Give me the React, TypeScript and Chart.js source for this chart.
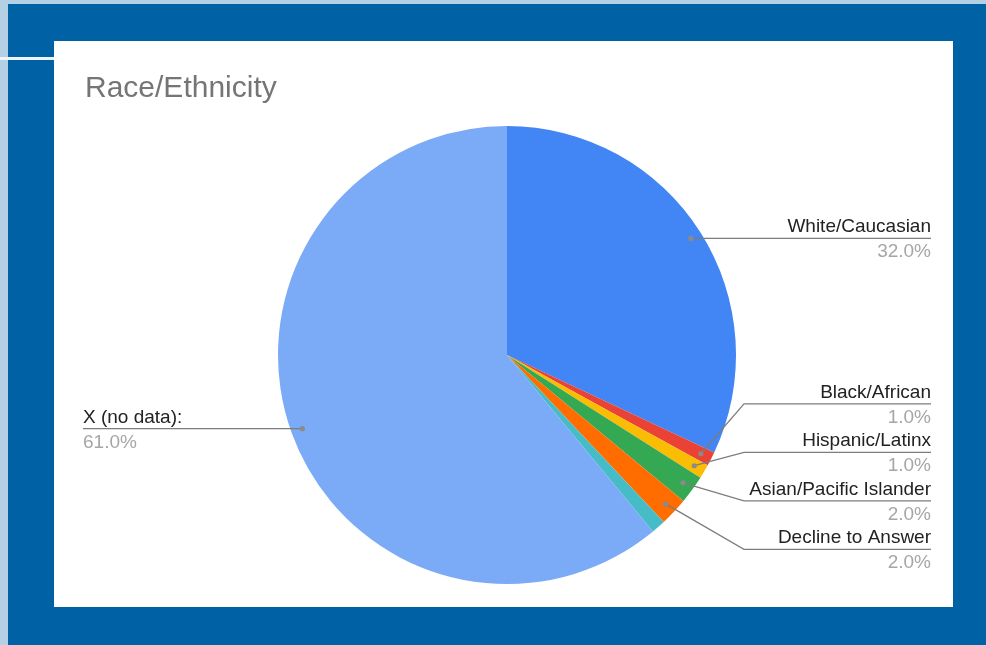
import React, { useEffect, useRef } from "react";
import { Chart, registerables } from "chart.js";

Chart.register(...registerables);

const chartTitle = "Race/Ethnicity";
const categories = [
  "White/Caucasian",
  "Black/African",
  "Hispanic/Latinx",
  "Asian/Pacific Islander",
  "Decline to Answer",
  "Other",
  "X (no data):",
];
const values = [32, 1, 1, 2, 2, 1, 61];
const showLabel = [true, true, true, true, true, false, true];
const sliceColors = ["#4285f4", "#ea4335", "#fbbc04", "#34a853", "#ff6d01", "#46bdc6", "#7baaf7"];

const FONT = "Arial, 'Liberation Sans', sans-serif";

const labelPlugin = {
  id: "pieLabels",
  afterDraw(chart: any) {
    const ctx = chart.ctx as CanvasRenderingContext2D;
    const W = chart.width;
    // title
    ctx.save();
    ctx.fillStyle = "#757575";
    ctx.font = `30px ${FONT}`;
    ctx.textAlign = "left";
    ctx.textBaseline = "alphabetic";
    ctx.fillText(chartTitle, 31, 56);

    const meta = chart.getDatasetMeta(0);
    const total = values.reduce((a, b) => a + b, 0);
    type Item = { i: number; dx: number; dy: number; right: boolean; y: number; cx: number; R: number };
    const items: Item[] = [];
    meta.data.forEach((arc: any, i: number) => {
      if (!showLabel[i]) return;
      const p = arc.getProps(["x", "y", "startAngle", "endAngle", "outerRadius"], true);
      const mid = (p.startAngle + p.endAngle) / 2;
      const r = p.outerRadius * 0.95;
      const dx = p.x + Math.cos(mid) * r;
      const dy = p.y + Math.sin(mid) * r;
      items.push({ i, dx, dy, right: Math.cos(mid) >= 0, y: dy, cx: p.x, R: p.outerRadius });
    });

    const spacing = 48.5;
    const resolve = (list: Item[]) => {
      list.sort((a, b) => a.dy - b.dy);
      let clusters: Item[][] = list.map((it) => [it]);
      const place = (c: Item[]) => {
        const mean = c.reduce((s, it) => s + it.dy, 0) / c.length;
        c.forEach((it, k) => (it.y = mean + (k - (c.length - 1) / 2) * spacing));
      };
      clusters.forEach(place);
      let merged = true;
      while (merged) {
        merged = false;
        for (let k = 1; k < clusters.length; k++) {
          const prev = clusters[k - 1];
          const cur = clusters[k];
          if (cur[0].y - prev[prev.length - 1].y < spacing - 0.01) {
            const m = prev.concat(cur);
            place(m);
            clusters.splice(k - 1, 2, m);
            merged = true;
            break;
          }
        }
      }
    };
    resolve(items.filter((it) => it.right));
    resolve(items.filter((it) => !it.right));

    const rightX = W - 22;
    const leftX = 29;
    items.forEach((it) => {
      const elbowX = it.right ? it.cx + it.R + 8 : it.cx - it.R - 8;
      const endX = it.right ? rightX : leftX;
      ctx.strokeStyle = "#7d7d7d";
      ctx.lineWidth = 1.3;
      ctx.beginPath();
      ctx.moveTo(it.dx, it.dy);
      if (Math.abs(it.y - it.dy) > 0.5) {
        ctx.lineTo(elbowX, it.y);
      }
      ctx.lineTo(endX, it.y);
      ctx.stroke();
      ctx.fillStyle = "#8a8a8a";
      ctx.beginPath();
      ctx.arc(it.dx, it.dy, 2.6, 0, Math.PI * 2);
      ctx.fill();

      ctx.textAlign = it.right ? "right" : "left";
      ctx.font = `19px ${FONT}`;
      ctx.fillStyle = "#222222";
      ctx.fillText(categories[it.i], endX, it.y - 6);
      ctx.fillStyle = "#a6a6a6";
      ctx.fillText(((values[it.i] / total) * 100).toFixed(1) + "%", endX, it.y + 19);
    });
    ctx.restore();
  },
};

export default function App() {
  const ref = useRef<HTMLCanvasElement | null>(null);
  useEffect(() => {
    document.body.style.margin = "0";
    const chart = new Chart(ref.current as HTMLCanvasElement, {
      type: "pie",
      data: {
        labels: categories,
        datasets: [
          {
            data: values,
            backgroundColor: sliceColors,
            borderWidth: 0,
          },
        ],
      },
      options: {
        responsive: false,
        animation: false,
        devicePixelRatio: 1,
        layout: { padding: { left: 224, right: 217, top: 85, bottom: 23 } },
        plugins: {
          legend: { display: false },
          tooltip: { enabled: false },
          title: { display: false },
        },
      },
      plugins: [labelPlugin],
    });
    return () => chart.destroy();
  }, []);

  return (
    <div style={{ position: "absolute", left: 0, top: 0, width: 986, height: 645, background: "#0062a5", overflow: "hidden" }}>
      <div style={{ position: "absolute", left: 0, top: 0, width: 986, height: 4, background: "#b4d0e4" }} />
      <div style={{ position: "absolute", left: 0, top: 0, width: 8, height: 645, background: "#b4d0e4" }} />
      <div style={{ position: "absolute", left: 0, top: 57, width: 54, height: 3, background: "#eef4f9" }} />
      <div style={{ position: "absolute", left: 54, top: 41, width: 899, height: 566, background: "#ffffff" }}>
        <canvas ref={ref} width={899} height={566} style={{ display: "block", width: 899, height: 566 }} />
      </div>
    </div>
  );
}
